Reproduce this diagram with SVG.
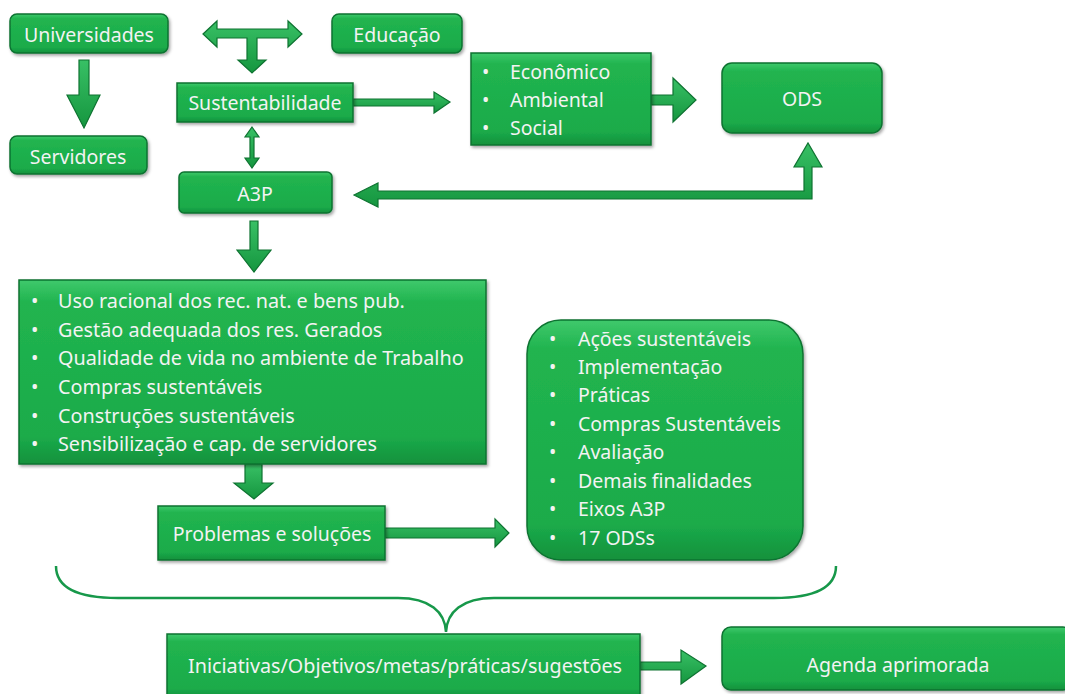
<svg xmlns="http://www.w3.org/2000/svg" width="1065" height="694" viewBox="0 0 1065 694">
<defs>
<linearGradient id="g" x1="0" y1="0" x2="0" y2="1">
<stop offset="0" stop-color="#3fc96c"/>
<stop offset="0.12" stop-color="#21b44f"/>
<stop offset="0.85" stop-color="#1bab4a"/>
<stop offset="1" stop-color="#13913c"/>
</linearGradient>
<linearGradient id="ga" x1="0" y1="0" x2="0" y2="1">
<stop offset="0" stop-color="#38c065"/>
<stop offset="1" stop-color="#15963f"/>
</linearGradient>
<filter id="sh" x="-10%" y="-10%" width="125%" height="130%">
<feDropShadow dx="1.5" dy="2" stdDeviation="1.5" flood-color="#000" flood-opacity="0.35"/>
</filter>
</defs>
<style>
.box{fill:url(#g);stroke:#0e7331;stroke-width:1.5;filter:url(#sh)}
.arr{fill:url(#ga);stroke:#0e7331;stroke-width:1.2;stroke-linejoin:miter}
.t{font-family:"Noto Sans","Liberation Sans",Arial,sans-serif;font-size:19.5px;fill:#f3f3f3}
.l{font-size:19.8px}
.c{text-anchor:middle;dominant-baseline:central}
.brace{fill:none;stroke:#17984a;stroke-width:2.5}
</style>
<rect width="1065" height="694" fill="#ffffff"/>

<g id="connectors">
<polygon class="arr" points="79,60 89,60 89,95 100,95 84,128 67,95 79,95"/>
<polygon class="arr" points="203,34 217,21 217,29 288,29 288,21 302,34 288,47 288,38 257,38 257,60 266,60 252,73 238,60 247,60 247,38 217,38 217,47"/>
<polygon class="arr" points="353,99 434,99 434,92 450,102 434,113 434,106 353,106"/>
<polygon class="arr" points="651,95 673,95 673,78 696,100 673,122 673,105 651,105"/>
<polygon class="arr" points="252,127 259,137 254,137 254,158 259,158 252,168 245,158 250,158 250,137 245,137"/>
<polygon class="arr" points="354,195 378,183 378,191 804,191 804,167 794,167 808,143 822,167 812,167 812,199 378,199 378,207"/>
<polygon class="arr" points="250,221 258,221 258,250 271,250 254,272 237,250 250,250"/>
<polygon class="arr" points="245,464 262,464 262,483 273,483 254,499 234,483 245,483"/>
<polygon class="arr" points="385,528 495,528 495,519 509,533 495,547 495,538 385,538"/>
<polygon class="arr" points="640,662 681,662 681,650 706,666 681,684 681,670 640,670"/>
<path class="brace" d="M56,566 C56,588 78,598 118,598 L398,598 C430,598 445,612 446,632 C447,612 462,598 494,598 L774,598 C814,598 836,588 836,566"/>
</g>

<g id="universidades"><rect class="box" x="10" y="14" width="158" height="39" rx="7"/><text class="t c" x="89" y="34">Universidades</text></g>
<g id="educacao"><rect class="box" x="332" y="14" width="130" height="39" rx="7"/><text class="t c" x="397" y="34">Educação</text></g>
<g id="servidores"><rect class="box" x="10" y="136" width="137" height="38" rx="7"/><text class="t c" x="78" y="156">Servidores</text></g>
<g id="sustentabilidade"><rect class="box" x="177" y="83" width="176" height="39"/><text class="t c" x="265" y="102">Sustentabilidade</text></g>
<g id="dimensoes"><rect class="box" x="471" y="53" width="180" height="92"/>
<text class="t" x="482" y="79">•</text><text class="t" x="510" y="79">Econômico</text>
<text class="t" x="482" y="107">•</text><text class="t" x="510" y="107">Ambiental</text>
<text class="t" x="482" y="135">•</text><text class="t" x="510" y="135">Social</text></g>
<g id="ods"><rect class="box" x="722" y="63" width="160" height="70" rx="10"/><text class="t c" x="802" y="98">ODS</text></g>
<g id="a3p"><rect class="box" x="179" y="172" width="153" height="41" rx="5"/><text class="t c" x="255" y="193">A3P</text></g>
<g id="eixos"><rect class="box" x="19" y="280" width="467" height="184"/>
<text class="t l" x="31" y="308">•</text><text class="t l" x="58" y="308">Uso racional dos rec. nat. e bens pub.</text>
<text class="t l" x="31" y="337">•</text><text class="t l" x="58" y="337">Gestão adequada dos res. Gerados</text>
<text class="t l" x="31" y="365">•</text><text class="t l" x="58" y="365">Qualidade de vida no ambiente de Trabalho</text>
<text class="t l" x="31" y="394">•</text><text class="t l" x="58" y="394">Compras sustentáveis</text>
<text class="t l" x="31" y="423">•</text><text class="t l" x="58" y="423">Construções sustentáveis</text>
<text class="t l" x="31" y="451">•</text><text class="t l" x="58" y="451">Sensibilização e cap. de servidores</text></g>
<g id="problemas"><rect class="box" x="158" y="506" width="227" height="54"/><text class="t c" x="272" y="533">Problemas e soluções</text></g>
<g id="acoes"><rect class="box" x="527" y="320" width="276" height="240" rx="34"/>
<text class="t" x="549" y="346">•</text><text class="t" x="578" y="346">Ações sustentáveis</text>
<text class="t" x="549" y="374">•</text><text class="t" x="578" y="374">Implementação</text>
<text class="t" x="549" y="402">•</text><text class="t" x="578" y="402">Práticas</text>
<text class="t" x="549" y="431">•</text><text class="t" x="578" y="431">Compras Sustentáveis</text>
<text class="t" x="549" y="459">•</text><text class="t" x="578" y="459">Avaliação</text>
<text class="t" x="549" y="488">•</text><text class="t" x="578" y="488">Demais finalidades</text>
<text class="t" x="549" y="516">•</text><text class="t" x="578" y="516">Eixos A3P</text>
<text class="t" x="549" y="545">•</text><text class="t" x="578" y="545">17 ODSs</text></g>
<g id="iniciativas"><rect class="box" x="167" y="634" width="473" height="64"/><text class="t c" x="405" y="665" textLength="434" lengthAdjust="spacingAndGlyphs">Iniciativas/Objetivos/metas/práticas/sugestões</text></g>
<g id="agenda"><rect class="box" x="722" y="627" width="350" height="63" rx="9"/><text class="t c" x="898" y="664">Agenda aprimorada</text></g>
</svg>
